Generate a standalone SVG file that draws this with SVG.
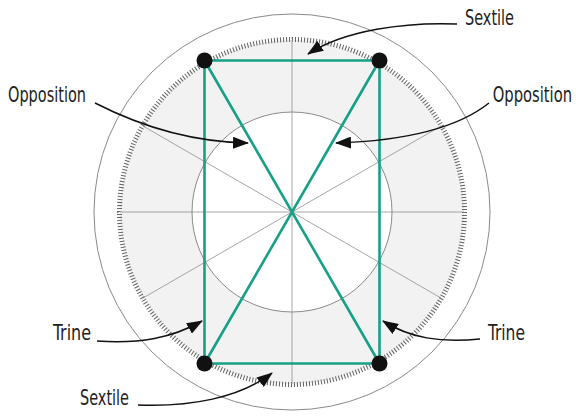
<svg xmlns="http://www.w3.org/2000/svg" width="576" height="416" viewBox="0 0 576 416">
<style>
.ring{fill:none;stroke:#8a8a8a;stroke-width:1}
.spoke{stroke:#8f8f8f;stroke-width:0.8}
.aspect{stroke:#16a085;stroke-width:2.6;fill:none;stroke-linecap:round}
.planet{fill:#111}
.lbl{font-family:"Liberation Sans Narrow","DejaVu Sans Condensed","Liberation Sans",sans-serif;font-size:21px;fill:#222}
.arrow{fill:none;stroke:#111;stroke-width:1.5}
</style>
<defs>
<marker id="ah" markerUnits="userSpaceOnUse" markerWidth="16" markerHeight="12" viewBox="0 0 16 12" refX="15" refY="6" orient="auto">
<path d="M0,0 L16,6 L0,12 Z" fill="#111"/>
</marker>
</defs>
<g id="wheel">
<circle cx="292" cy="212" r="198" class="ring"/>
<circle cx="292" cy="212" r="172" fill="#f2f2f2"/>
<circle cx="292" cy="212" r="172.5" fill="none" stroke="#666" stroke-width="5" pathLength="360" stroke-dasharray="0.35 0.65"/>
<circle cx="292" cy="212" r="100" fill="#fff" stroke="#8a8a8a" stroke-width="1"/>
<g class="spoke">
<line x1="292" y1="40" x2="292" y2="384"/>
<line x1="120" y1="212" x2="464" y2="212"/>
<line x1="143" y1="126" x2="441" y2="298"/>
<line x1="143" y1="298" x2="441" y2="126"/>
<line x1="206" y1="63" x2="378" y2="361"/>
<line x1="206" y1="361" x2="378" y2="63"/>
</g>
</g>
<g id="aspects">
<path class="aspect" d="M204.5,60.5 L379.5,60.5 L379.5,363.5 L204.5,363.5 Z"/>
<line class="aspect" x1="204.5" y1="60.5" x2="379.5" y2="363.5"/>
<line class="aspect" x1="379.5" y1="60.5" x2="204.5" y2="363.5"/>
</g>
<g id="planet-tl"><circle class="planet" cx="204.5" cy="60.5" r="8"/></g>
<g id="planet-tr"><circle class="planet" cx="379.5" cy="60.5" r="8"/></g>
<g id="planet-bl"><circle class="planet" cx="204.5" cy="363.5" r="8"/></g>
<g id="planet-br"><circle class="planet" cx="379.5" cy="363.5" r="8"/></g>
<g id="connectors">
<path class="arrow" marker-end="url(#ah)" d="M457,24 C405,22 345,30 308,54"/>
<path class="arrow" marker-end="url(#ah)" d="M95,103 C140,126 190,142 248,143"/>
<path class="arrow" marker-end="url(#ah)" d="M489,103 C455,130 400,141 336,143"/>
<path class="arrow" marker-end="url(#ah)" d="M97,341 C140,344 172,338 202,321"/>
<path class="arrow" marker-end="url(#ah)" d="M138,405 C190,407 240,398 272,373"/>
<path class="arrow" marker-end="url(#ah)" d="M480,339 C440,343 410,338 383,321"/>
</g>
<g id="label-sextile-top"><text class="lbl" x="465" y="25" textLength="49" lengthAdjust="spacingAndGlyphs">Sextile</text></g>
<g id="label-opposition-left"><text class="lbl" x="8" y="102" textLength="78" lengthAdjust="spacingAndGlyphs">Opposition</text></g>
<g id="label-opposition-right" transform="translate(572,102) scale(0.78,1)"><text class="lbl" x="0" y="0" text-anchor="end">Opposition</text></g>
<g id="label-trine-left"><text class="lbl" x="53" y="340" textLength="38" lengthAdjust="spacingAndGlyphs">Trine</text></g>
<g id="label-sextile-bottom"><text class="lbl" x="80" y="405" textLength="49" lengthAdjust="spacingAndGlyphs">Sextile</text></g>
<g id="label-trine-right"><text class="lbl" x="488" y="340" textLength="37" lengthAdjust="spacingAndGlyphs">Trine</text></g>
</svg>
